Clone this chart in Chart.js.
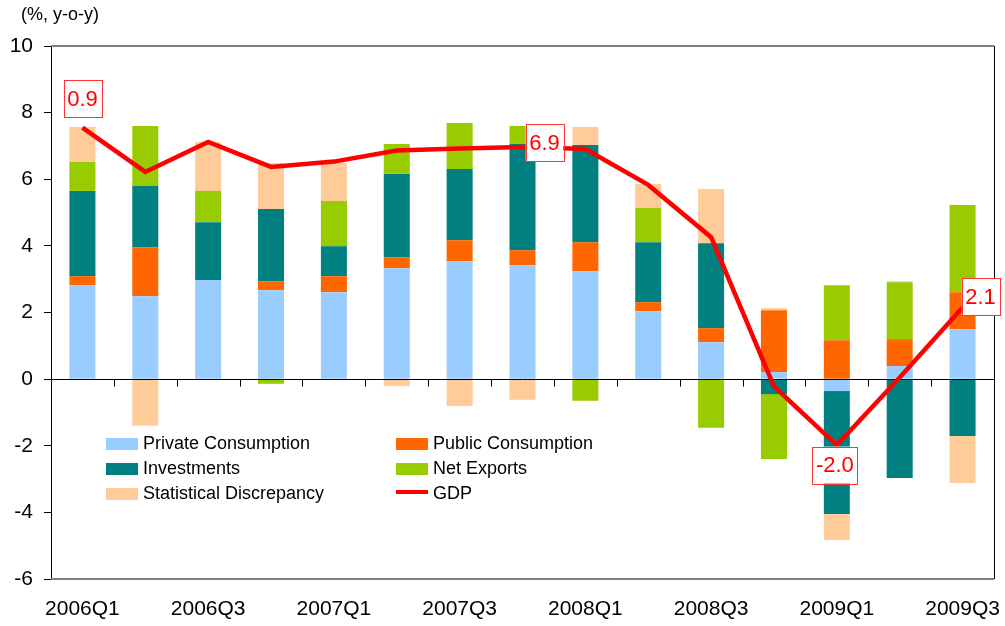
<!DOCTYPE html>
<html>
<head>
<meta charset="utf-8">
<script src="https://cdn.jsdelivr.net/npm/chart.js@4.4.0/dist/chart.umd.min.js"></script>
<style>
    html, body { margin: 0; padding: 0; background: #fff; }
    canvas { display: block; }
</style>
</head>
<body>
<canvas id="gdpChart" width="1005" height="626"></canvas>
<script>
// Quarters on the x axis
const quarters = ["2006Q1", "2006Q2", "2006Q3", "2006Q4", "2007Q1", "2007Q2", "2007Q3", "2007Q4",
    "2008Q1", "2008Q2", "2008Q3", "2008Q4", "2009Q1", "2009Q2", "2009Q3"];

// Contributions to growth (percentage points)
const privateConsumption = [2.82, 2.49, 2.97, 2.67, 2.61, 3.33, 3.54, 3.42, 3.24, 2.04, 1.11, 0.21, -0.36, 0.39, 1.50];
const publicConsumption = [0.27, 1.47, 0.00, 0.27, 0.48, 0.33, 0.63, 0.45, 0.87, 0.27, 0.42, 1.86, 1.17, 0.81, 1.11];
const investments = [2.56, 1.84, 1.74, 2.17, 0.90, 2.50, 2.14, 3.19, 2.92, 1.80, 2.55, -0.45, -3.69, -2.97, -1.71];
const netExports = [0.87, 1.80, 0.94, -0.14, 1.36, 0.90, 1.38, 0.54, -0.65, 1.03, -1.46, -1.95, 1.65, 1.71, 2.62];
const statDiscrepancy = [1.05, -1.40, 1.47, 1.38, 1.14, -0.21, -0.81, -0.62, 0.54, 0.72, 1.63, 0.06, -0.78, 0.03, -1.41];
const gdp = [7.55, 6.22, 7.12, 6.37, 6.53, 6.86, 6.92, 6.97, 6.91, 5.83, 4.26, -0.22, -1.98, 0.05, 2.15];

// Boxed labels on the GDP line
const noteIndex = [0, 7, 12, 14];
const noteText = ["0.9", "6.9", "-2.0", "2.1"];

// Y axis ticks
const yMin = -6;
const yMax = 10;
const yStep = 2;

const FONT = "Arial, 'Liberation Sans', sans-serif";
const COLORS = {
    privateC: "#99CCFF",
    publicC: "#FF6600",
    invest: "#008080",
    netExp: "#99CC00",
    statDisc: "#FFCC99",
    gdp: "#FF0000",
};

// offsets of the note boxes from their GDP point (px)
const noteOffsets = [[0, -29], [22, -4], [-2, 20], [18, -11]];

function barSet(label, data, color) {
    return {
        type: "bar",
        label: label,
        data: data,
        backgroundColor: color,
        borderWidth: 0,
        stack: "contrib",
        order: 1,
        barPercentage: 0.414,
        categoryPercentage: 1.0,
    };
}

const datasets = [
    barSet("Private Consumption", privateConsumption, COLORS.privateC),
    barSet("Public Consumption", publicConsumption, COLORS.publicC),
    barSet("Investments", investments, COLORS.invest),
    barSet("Net Exports", netExports, COLORS.netExp),
    barSet("Statistical Discrepancy", statDiscrepancy, COLORS.statDisc),
    {
        type: "line",
        label: "GDP",
        data: gdp,
        borderColor: COLORS.gdp,
        borderWidth: 4.5,
        borderJoinStyle: "miter",
        pointRadius: 0,
        tension: 0,
        fill: false,
        stack: "gdp",
        order: 0,
    },
];
const gdpIndex = 5;

// legend layout: two columns, three rows
const legendCols = [[0, 2, 4], [1, 3, 5]];

const extras = {
    id: "extras",
    beforeDatasetDraw(chart, args) {
        if (args.index !== gdpIndex) return;
        // zero line with category ticks
        const ctx = chart.ctx;
        const area = chart.chartArea;
        const x = chart.scales.x;
        const y0 = Math.round(chart.scales.y.getPixelForValue(0)) + 0.5;
        ctx.save();
        ctx.strokeStyle = "#000";
        ctx.lineWidth = 1;
        ctx.beginPath();
        ctx.moveTo(area.left, y0);
        ctx.lineTo(area.right, y0);
        const half = (x.getPixelForValue(1) - x.getPixelForValue(0)) / 2;
        for (let i = 1; i < quarters.length; i++) {
            const tx = Math.round(x.getPixelForValue(i) - half) + 0.5;
            ctx.moveTo(tx, y0);
            ctx.lineTo(tx, y0 + 7);
        }
        ctx.stroke();
        ctx.restore();
    },
    afterDraw(chart) {
        const ctx = chart.ctx;
        const area = chart.chartArea;
        ctx.save();

        // frame
        ctx.strokeStyle = "#808080";
        ctx.lineWidth = 2;
        ctx.beginPath();
        ctx.moveTo(area.left, area.top);
        ctx.lineTo(area.right, area.top);
        ctx.moveTo(area.left, area.bottom);
        ctx.lineTo(area.right, area.bottom);
        ctx.stroke();
        ctx.strokeStyle = "#000";
        ctx.lineWidth = 1;
        ctx.beginPath();
        ctx.moveTo(area.right + 0.5, area.top);
        ctx.lineTo(area.right + 0.5, area.bottom);
        ctx.stroke();

        // unit title
        ctx.fillStyle = "#000";
        ctx.font = "18px " + FONT;
        ctx.textAlign = "left";
        ctx.textBaseline = "middle";
        ctx.fillText("(%, y-o-y)", 21, 15);

        // legend
        const colX = [106, 396];
        const rowY = [444, 469, 494];
        ctx.font = "18px " + FONT;
        legendCols.forEach((col, c) => {
            col.forEach((di, r) => {
                const ds = chart.data.datasets[di];
                const sx = colX[c];
                const sy = rowY[r];
                if (ds.type === "line") {
                    ctx.fillStyle = ds.borderColor;
                    ctx.fillRect(sx, sy - 4, 32, 4);
                } else {
                    ctx.fillStyle = ds.backgroundColor;
                    ctx.fillRect(sx, sy - 6, 32, 12);
                }
                ctx.fillStyle = "#000";
                ctx.fillText(ds.label, sx + 37, sy);
            });
        });

        // note boxes on the GDP line
        const meta = chart.getDatasetMeta(gdpIndex);
        ctx.font = "22px " + FONT;
        ctx.textAlign = "center";
        noteIndex.forEach((idx, k) => {
            const pt = meta.data[idx];
            const cx = pt.x + noteOffsets[k][0];
            const cy = pt.y + noteOffsets[k][1];
            const w = ctx.measureText(noteText[k]).width + 7;
            const h = 37;
            ctx.fillStyle = "#fff";
            ctx.fillRect(cx - w / 2, cy - h / 2, w, h);
            ctx.strokeStyle = "#FF3333";
            ctx.lineWidth = 1;
            ctx.strokeRect(Math.round(cx - w / 2) + 0.5, Math.round(cy - h / 2) + 0.5, Math.round(w), h);
            ctx.fillStyle = COLORS.gdp;
            ctx.fillText(noteText[k], cx, cy + 1);
        });

        ctx.restore();
    },
};

const chart = new Chart(document.getElementById("gdpChart"), {
    data: {
        labels: quarters,
        datasets: datasets,
    },
    options: {
        responsive: false,
        animation: false,
        layout: {
            padding: {left: 0, right: 11, top: 46, bottom: 0},
        },
        plugins: {
            legend: {display: false},
            tooltip: {enabled: false},
        },
        scales: {
            x: {
                stacked: true,
                grid: {display: false, drawTicks: false},
                border: {display: false},
                ticks: {
                    autoSkip: false,
                    maxRotation: 0,
                    padding: 18,
                    color: "#000",
                    font: {family: FONT, size: 21},
                    callback: function (value, index) {
                        return index % 2 === 0 ? quarters[index] : "";
                    },
                },
                afterFit: function (scale) {
                    scale.height = 47;
                    scale.paddingLeft = 0;
                    scale.paddingRight = 0;
                },
            },
            y: {
                stacked: true,
                min: yMin,
                max: yMax,
                grid: {
                    drawOnChartArea: false,
                    color: "#000",
                    tickLength: 7,
                },
                border: {color: "#000", width: 1},
                ticks: {
                    stepSize: yStep,
                    padding: 11,
                    color: "#000",
                    font: {family: FONT, size: 21},
                },
                afterFit: function (scale) {
                    scale.width = 51;
                },
            },
        },
    },
    plugins: [extras],
});
</script>
</body>
</html>
